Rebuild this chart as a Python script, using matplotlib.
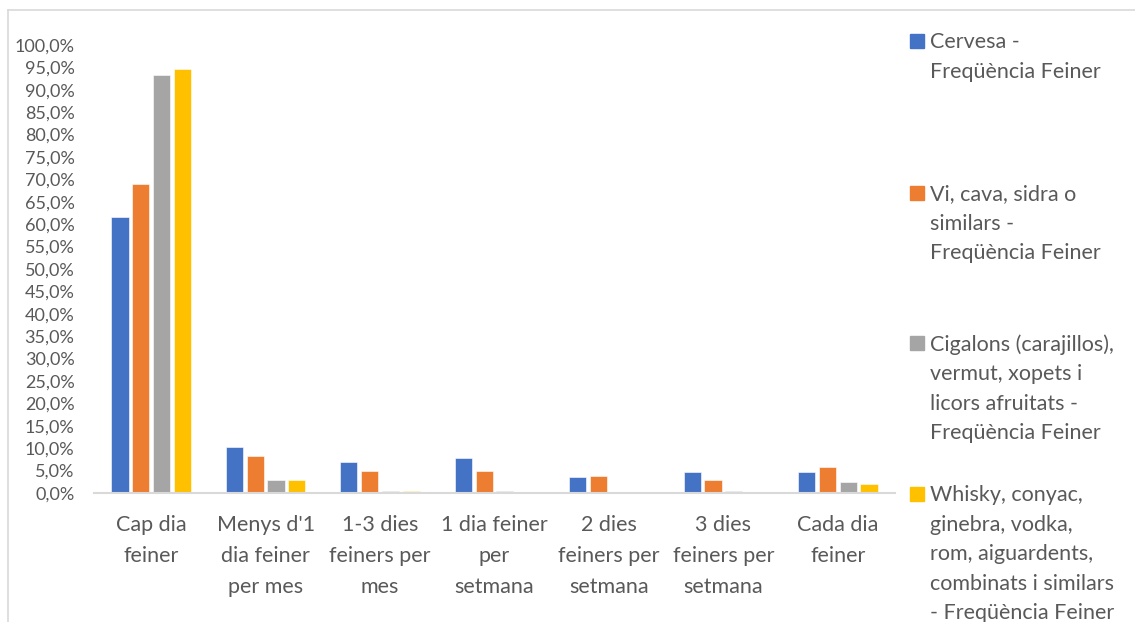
import numpy as np
import matplotlib.pyplot as plt
from matplotlib.patches import Rectangle
from matplotlib.lines import Line2D
from matplotlib.ticker import FuncFormatter

plt.rcParams['font.family'] = ['Lato', 'DejaVu Sans']

categories = ["Cap dia\nfeiner", "Menys d'1\ndia feiner\nper mes", "1-3 dies\nfeiners per\nmes",
              "1 dia feiner\nper\nsetmana", "2 dies\nfeiners per\nsetmana", "3 dies\nfeiners per\nsetmana",
              "Cada dia\nfeiner"]

cervesa = [61.5, 10.3, 6.9, 7.8, 3.6, 4.6, 4.6]
vi = [69.0, 8.3, 4.8, 4.8, 3.8, 2.8, 5.8]
cigalons = [93.2, 2.9, 0.45, 0.4, 0.0, 0.4, 2.4]
whisky = [94.7, 2.8, 0.4, 0.0, 0.0, 0.0, 1.9]

series_labels = ["Cervesa -\nFreqüència Feiner",
                 "Vi, cava, sidra o\nsimilars -\nFreqüència Feiner",
                 "Cigalons (carajillos),\nvermut, xopets i\nlicors afruitats -\nFreqüència Feiner",
                 "Whisky, conyac,\nginebra, vodka,\nrom, aiguardents,\ncombinats i similars\n- Freqüència Feiner"]
colors = ['#4472C4', '#ED7D31', '#A5A5A5', '#FFC000']
text_col = '#595959'

W, H = 1135, 622
fig = plt.figure(figsize=(W / 100, H / 100), dpi=100)
ax = fig.add_axes([94 / W, 129 / H, (895 - 94) / W, (577 - 129) / H])

x = np.arange(len(categories))
step = 0.182
width = 0.15
for i, (vals, c) in enumerate(zip([cervesa, vi, cigalons, whisky], colors)):
    ax.bar(x + (i - 1.5) * step, np.array(vals) / 100, width=width, color=c,
           edgecolor='white', linewidth=0.4)

ax.set_xlim(-0.5, len(categories) - 0.5)
ax.set_ylim(0, 1.0)
ax.set_yticks(np.arange(0, 1.0001, 0.05))
ax.yaxis.set_major_formatter(FuncFormatter(lambda v, p: f"{v * 100:.1f}%".replace('.', ',')))
ax.set_xticks(x)
ax.set_xticklabels(categories, fontsize=15.5, color=text_col, linespacing=1.68)
ax.tick_params(axis='y', length=0, pad=14, labelsize=13, labelcolor=text_col)
ax.tick_params(axis='x', length=0, pad=16)
for s in ['top', 'right', 'left']:
    ax.spines[s].set_visible(False)
ax.spines['bottom'].set_color('#D9D9D9')
ax.spines['bottom'].set_linewidth(1.5)

# chart border (top and left)
fig.add_artist(Line2D([8 / W, 8 / W], [0, (H - 10) / H], color='#D9D9D9', lw=1.2))
fig.add_artist(Line2D([8 / W, 1], [(H - 10) / H, (H - 10) / H], color='#D9D9D9', lw=1.2))

# legend
legend_y = [41, 193, 343, 494]
for lab, c, yy in zip(series_labels, colors, legend_y):
    fig.add_artist(Rectangle((910 / W, (H - yy - 7) / H), 14 / W, 14 / H, color=c))
    fig.text(930 / W, (H - yy + 9) / H, lab, fontsize=15.5, color=text_col,
             va='top', ha='left', linespacing=1.6)

fig.savefig('out.png', dpi=100)
